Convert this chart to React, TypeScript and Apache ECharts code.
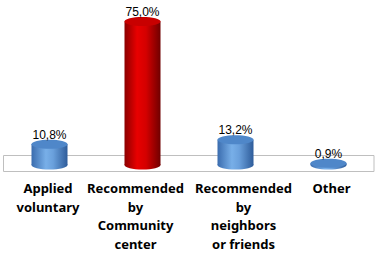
import React, { useEffect, useRef } from "react";
import * as echarts from "echarts";

const categories = [
  "Applied\nvoluntary",
  "Recommended\nby\nCommunity\ncenter",
  "Recommended\nby\nneighbors\nor friends",
  "Other",
];
const values = [10.8, 75.0, 13.2, 0.9];

// horizontal nudges of category labels (style only)
const labelShift = [-1.5, -7, 8, 3];

const fmt = (v: number) => v.toFixed(1).replace(".", ",") + "%";

export default function App() {
  const ref = useRef<HTMLDivElement>(null);
  useEffect(() => {
    if (!ref.current) return;
    const chart = echarts.init(ref.current, null, { renderer: "svg" });

    const rich: Record<string, any> = {};
    labelShift.forEach((s, i) => {
      rich["l" + i] = {
        fontFamily: "'Noto Sans', sans-serif",
        fontWeight: "bold",
        fontSize: 13,
        lineHeight: 18.5,
        color: "#000",
        padding: [0, s < 0 ? -2 * s : 0, 0, s > 0 ? 2 * s : 0],
      };
    });

    const blueBody = () =>
      new echarts.graphic.LinearGradient(0, 0, 1, 0, [
        { offset: 0, color: "#3a6cae" },
        { offset: 0.4, color: "#78afe8" },
        { offset: 0.6, color: "#6aa0dc" },
        { offset: 1, color: "#2e5c9a" },
      ]);
    const redBody = () =>
      new echarts.graphic.LinearGradient(0, 0, 1, 0, [
        { offset: 0, color: "#8c0000" },
        { offset: 0.35, color: "#e80000" },
        { offset: 0.6, color: "#d40000" },
        { offset: 1, color: "#700000" },
      ]);

    chart.setOption({
      animation: false,
      grid: { left: 3, right: 6, top: 12, bottom: 91 },
      xAxis: {
        type: "category",
        data: categories,
        axisLine: { show: false },
        axisTick: { show: false },
        axisLabel: {
          interval: 0,
          margin: 14,
          formatter: (val: string, idx: number) =>
            val
              .split("\n")
              .map((line) => `{l${idx}|${line}}`)
              .join("\n"),
          rich,
        },
      },
      yAxis: {
        type: "value",
        min: 0,
        max: 80,
        show: false,
        splitLine: { show: false },
      },
      graphic: [
        {
          type: "rect",
          z: 0,
          shape: { x: 3.5, y: 155.5, width: 370.5, height: 16 },
          style: { fill: "#ffffff", stroke: "#bfbfbf", lineWidth: 1 },
        },
      ],
      series: [
        {
          type: "custom",
          z: 5,
          data: values.map((v, i) => [i, v]),
          renderItem: (params: any, api: any) => {
            const idx = params.dataIndex;
            const v = api.value(1);
            const base = api.coord([api.value(0), 0]);
            const top = api.coord([api.value(0), v]);
            const w = 36;
            const eh = 9;
            const x = base[0];
            const red = idx === 1;
            const body = red ? redBody() : blueBody();
            const topFill = red ? "#c80000" : "#4f87c9";
            return {
              type: "group",
              children: [
                {
                  type: "ellipse",
                  shape: { cx: x, cy: base[1], rx: w / 2, ry: eh / 2 },
                  style: { fill: body },
                },
                {
                  type: "rect",
                  shape: {
                    x: x - w / 2,
                    y: top[1],
                    width: w,
                    height: Math.max(0, base[1] - top[1]),
                  },
                  style: { fill: body },
                },
                {
                  type: "ellipse",
                  shape: { cx: x, cy: top[1], rx: w / 2, ry: eh / 2 },
                  style: { fill: topFill },
                },
                {
                  type: "text",
                  style: {
                    text: fmt(v),
                    x: x,
                    y: top[1] - eh / 2 + 1,
                    align: "center",
                    verticalAlign: "bottom",
                    fontFamily: "'Liberation Sans', Arial, sans-serif",
                    fontSize: 12,
                    fill: "#000",
                  },
                },
              ],
            };
          },
        },
      ],
    });
    return () => chart.dispose();
  }, []);
  return (
    <div
      ref={ref}
      style={{ position: "fixed", left: 0, top: 0, width: 381, height: 256, background: "#fff" }}
    />
  );
}
